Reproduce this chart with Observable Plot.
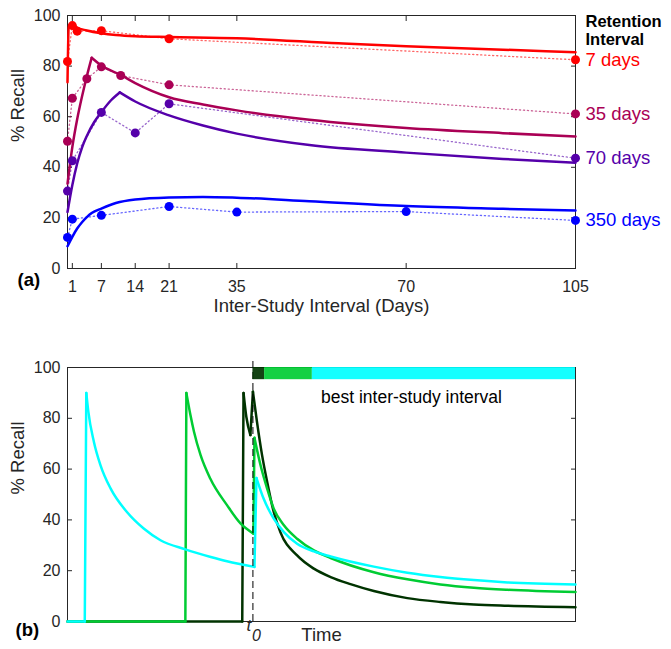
<!DOCTYPE html>
<html><head><meta charset="utf-8">
<script src="https://cdn.jsdelivr.net/npm/d3@7"></script>
<script src="https://cdn.jsdelivr.net/npm/@observablehq/plot@0.6"></script>
<style>
body{margin:0;background:#fff;}
#chart{width:671px;}
#chart svg{display:block;overflow:visible;}
</style></head><body><div id="chart"></div>
<script>
// ---------- Panel (a) data ----------
const retentionLabels = ["7 days", "35 days", "70 days", "350 days"];
const retentionColors = ["#ff0000", "#aa0055", "#5500aa", "#0000ff"];
const xTicksA = [1, 7, 14, 21, 35, 70, 105];
const yTicks = [0, 20, 40, 60, 80, 100];

// observed [ISI days, % recall]
const obs7 = [[0, 81.8], [1, 96], [2, 93.8], [7, 94], [21, 90.8], [105, 82.5]];
const obs35 = [[0, 50.3], [1, 67.3], [4, 75], [7, 79.7], [11, 76.3], [21, 72.6], [105, 61.1]];
const obs70 = [[0, 30.6], [1, 42.6], [7, 61.7], [14, 53.6], [21, 65.1], [105, 43.6]];
const obs350 = [[0, 12.3], [1, 19.5], [7, 21], [21, 24.5], [35, 22.3], [70, 22.5], [105, 19]];

// model fits (pieces that meet at a cusp)
const fit7 = [
  [[0, 73.6], [0.25, 95.5], [0.8, 96.9]],
  [[0.8, 96.9], [2, 95.2], [4, 94.1], [7, 93], [10, 92.3], [14, 91.8], [21, 91.5], [35, 91], [56, 89], [70, 87.8], [90, 86.5], [105, 85.5]]
];
const fit35 = [
  [[0, 33.5], [1, 48], [2, 59], [3, 68], [4, 76], [5, 83.3]],
  [[5, 83.3], [7, 80.2], [11, 76.5], [14, 73.3], [21, 67.7], [28, 64.8], [35, 62.5], [50, 58.8], [70, 55.5], [90, 53.5], [105, 52.2]]
];
const fit70 = [
  [[0, 22.3], [1, 33], [2, 41.5], [3, 47.8], [4, 52.4], [5.5, 57.8], [7, 61.8], [9, 66.5], [10.8, 69.6]],
  [[10.8, 69.6], [14, 66], [21, 60.5], [28, 56.5], [35, 53.3], [50, 48.8], [70, 45.8], [90, 43.3], [105, 41.8]]
];
const fit350 = [
  [[0, 8.8], [1, 12.5], [2, 15.8], [3, 18.3], [4, 20.3], [5, 21.9], [7, 23.7], [10, 25.9], [14, 27.3], [21, 28.1], [28, 28.3], [35, 28], [50, 26.6], [70, 24.7], [90, 23.6], [105, 22.9]]
];

// ---------- Panel (b) data ----------
const isiNames = ["long ISI", "medium ISI", "short ISI"];
const isiColors = ["#00ffff", "#00cc33", "#003300"];
const tZero = 36.5;
const curveLong = [
  [[0, 0], [3.4, 0]],
  [[3.4, 0], [3.7, 90]],
  [[3.7, 90], [4.1, 82.6], [5.2, 70.7], [6.5, 61.5], [8.5, 52.3], [11.7, 43.1], [15.0, 36.6], [18.3, 32], [23.2, 28.4], [28.2, 25.4], [31.4, 23.7], [36.8, 21.5]],
  [[36.8, 21.5], [37.2, 56.5]],
  [[37.2, 56.5], [38.6, 48.4], [40.6, 40.5], [42.6, 35.2], [45.2, 30.6], [48.5, 27.6], [51.8, 25.6], [60.3, 21.6], [66.9, 19.2], [73.4, 17.5], [80, 16.3], [86.6, 15.4], [100, 14.6]]
];
const curveMedium = [
  [[0, 0], [23.2, 0]],
  [[23.2, 0], [23.4, 90]],
  [[23.4, 90], [24.2, 81.3], [24.9, 74.7], [26.2, 65.5], [28.1, 56.3], [31.4, 45.8], [34.1, 38.5], [36.6, 34.6]],
  [[36.6, 34.6], [36.8, 72.3]],
  [[36.8, 72.3], [38.0, 61.5], [39.3, 52.3], [40.6, 44.4], [42.6, 37.9], [45.2, 32.6], [48.5, 28], [51.8, 25], [60.3, 19.4], [66.9, 16.6], [73.4, 14.6], [80, 13.3], [86.6, 12.5], [100, 11.6]]
];
const curveShort = [
  [[0, 0], [34.4, 0]],
  [[34.4, 0], [34.65, 90]],
  [[34.65, 90], [35.2, 80.6], [36.0, 73.4]],
  [[36.0, 73.4], [36.5, 90.5]],
  [[36.5, 90.5], [37.3, 78.6], [38.3, 65.5], [39.3, 55], [40.6, 43.1], [41.9, 35.2], [45.2, 26], [48.5, 20.8], [51.8, 17.5], [55.7, 14.7], [60.3, 12], [66.9, 9.2], [73.4, 7.7], [80, 6.7], [86.6, 6.2], [100, 5.6]]
];
const bestIsi = [
  {from: 36.5, to: 38.8, isi: "short ISI"},
  {from: 38.8, to: 48.2, isi: "medium ISI"},
  {from: 48.2, to: 100, isi: "long ISI"}
];

// ---------- tables ----------
const obsSets = [obs7, obs35, obs70, obs350];
const fitSets = [fit7, fit35, fit70, fit350];
const obsRows = [];
obsSets.forEach((arr, i) => arr.forEach(([d, v]) => obsRows.push({ri: retentionLabels[i], isi: d, recall: v})));
const fitRows = [];
fitSets.forEach((segs, i) => segs.forEach((seg, s) => seg.forEach(([d, v]) => fitRows.push({ri: retentionLabels[i], seg: i + "-" + s, isi: d, recall: v}))));
const lastRows = obsSets.map((arr, i) => ({ri: retentionLabels[i], isi: arr[arr.length - 1][0], recall: arr[arr.length - 1][1]}));

// drawn short first, long last (long ISI curve on top)
const curveRows = [];
[[curveShort, "short ISI"], [curveMedium, "medium ISI"], [curveLong, "long ISI"]].forEach(([segs, name]) =>
  segs.forEach((seg, s) => seg.forEach(([t, v]) => curveRows.push({isi: name, seg: name + s, t, recall: v}))));

const FONT = "'Liberation Sans', Arial, Helvetica, sans-serif";
const AX = "#262626";

const panelA = Plot.plot({
  width: 671, height: 325,
  marginLeft: 67, marginRight: 96, marginTop: 15, marginBottom: 57,
  style: {fontFamily: FONT, fontSize: "16px", color: AX, background: "white", overflow: "visible"},
  x: {domain: [0, 105]},
  y: {domain: [0, 100]},
  color: {domain: retentionLabels, range: retentionColors},
  marks: [
    Plot.frame({stroke: AX}),
    Plot.axisY({anchor: "left", ticks: yTicks, tickSize: -5, tickPadding: 12, label: null, fontSize: 16}),
    Plot.axisY({anchor: "right", ticks: yTicks, tickSize: -5, tickFormat: () => "", label: null}),
    Plot.axisX({anchor: "bottom", ticks: xTicksA, tickSize: -5, tickPadding: 17, label: null, fontSize: 16}),
    Plot.axisX({anchor: "top", ticks: xTicksA, tickSize: -5, tickFormat: () => "", label: null}),
    Plot.line(obsRows, {x: "isi", y: "recall", z: "ri", stroke: "ri", strokeOpacity: 0.6, strokeWidth: 1.3, strokeDasharray: "1.2,2.8"}),
    Plot.line(fitRows, {x: "isi", y: "recall", z: "seg", stroke: "ri", strokeWidth: 2.5, curve: "monotone-x", strokeLinecap: "round", strokeLinejoin: "round"}),
    Plot.dot(obsRows, {x: "isi", y: "recall", fill: "ri", r: 4.5}),
    Plot.text(lastRows, {x: "isi", y: "recall", text: "ri", fill: "ri", dx: 10, textAnchor: "start", fontSize: 18.5}),
    Plot.text(["Retention\nInterval"], {frameAnchor: "top-right", dx: 10, dy: -2, textAnchor: "start", lineAnchor: "top", lineHeight: 1.13, fontWeight: "bold", fontSize: 16.5, fill: "black"}),
    Plot.text(["% Recall"], {frameAnchor: "left", dx: -49, rotate: -90, fontSize: 18.5, fill: AX}),
    Plot.text(["Inter-Study Interval (Days)"], {frameAnchor: "bottom", dy: 43, fontSize: 18.5, fill: AX}),
    Plot.text(["(a)"], {frameAnchor: "bottom-left", dx: -50, dy: 17, textAnchor: "start", fontWeight: "bold", fontSize: 18.5, fill: "black"})
  ]
});

const panelB = Plot.plot({
  width: 671, height: 324,
  marginLeft: 67, marginRight: 96, marginTop: 42, marginBottom: 28,
  style: {fontFamily: FONT, fontSize: "16px", color: AX, background: "white", overflow: "visible"},
  x: {domain: [0, 100], axis: null},
  y: {domain: [0, 100]},
  color: {domain: isiNames, range: isiColors},
  marks: [
    Plot.frame({stroke: AX}),
    Plot.axisY({anchor: "left", ticks: yTicks, tickSize: -5, tickPadding: 12, label: null, fontSize: 16}),
    Plot.axisY({anchor: "right", ticks: yTicks, tickSize: -5, tickFormat: () => "", label: null}),
    Plot.line(curveRows, {x: "t", y: "recall", z: "seg", stroke: "isi", strokeWidth: 2.5, curve: "monotone-x", strokeLinecap: "round", strokeLinejoin: "round"}),
    Plot.ruleX([tZero], {y1: 0, y2: 102.7, stroke: "black", strokeWidth: 1, strokeDasharray: "7,4"}),
    Plot.rect(bestIsi, {x1: "from", x2: "to", y1: 95.2, y2: 100, fill: "isi", fillOpacity: 0.92}),
    Plot.text(["best inter-study interval"], {frameAnchor: "top", dx: 90, dy: 23, fontSize: 17.5, fill: "black"}),
    Plot.text(["t"], {x: [tZero], frameAnchor: "bottom", dx: -4, dy: 9.6, fontStyle: "italic", fontSize: 17, fill: AX}),
    Plot.text(["0"], {x: [tZero], frameAnchor: "bottom", dx: 3.5, dy: 19, fontStyle: "italic", fontSize: 16, fill: AX}),
    Plot.text(["Time"], {frameAnchor: "bottom", dy: 19, fontSize: 18.5, fill: AX}),
    Plot.text(["% Recall"], {frameAnchor: "left", dx: -49, rotate: -90, fontSize: 18.5, fill: AX}),
    Plot.text(["(b)"], {frameAnchor: "bottom-left", dx: -52, dy: 14, textAnchor: "start", fontWeight: "bold", fontSize: 18.5, fill: "black"})
  ]
});

document.getElementById("chart").append(panelA, panelB);
</script></body></html>
